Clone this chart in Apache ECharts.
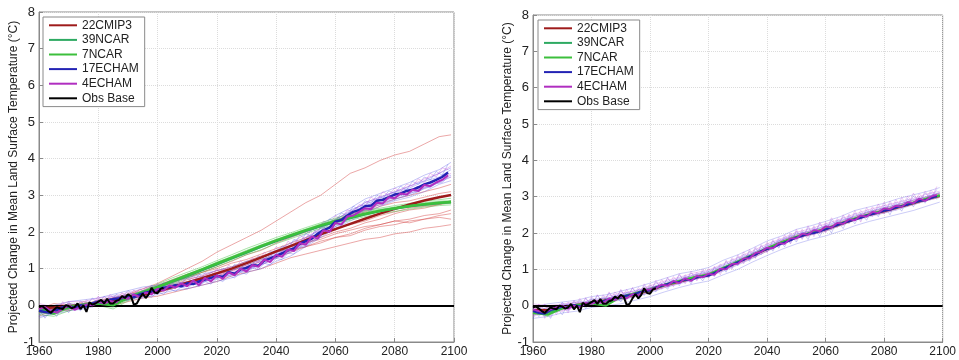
<!DOCTYPE html>
<html><head><meta charset="utf-8">
<script src="https://cdn.jsdelivr.net/npm/echarts@6/dist/echarts.min.js"></script>
<style>html,body{margin:0;padding:0;background:#fff}#c{width:959px;height:360px}</style>
</head><body><div id="c"></div>
<script>
// ---------- x values ----------
const yrs5 = [1960,1965,1970,1975,1980,1985,1990,1995,2000,2005,2010,2015,2020,2025,2030,2035,2040,2045,2050,2055,2060,2065,2070,2075,2080,2085,2090,2095,2099];
const yrs2 = [1960,1962,1964,1966,1968,1970,1972,1974,1976,1978,1980,1982,1984,1986,1988,1990,1992,1994,1996,1998,2000,2002,2004,2006,2008,2010,2012,2014,2016,2018,2020,2022,2024,2026,2028,2030,2032,2034,2036,2038,2040,2042,2044,2046,2048,2050,2052,2054,2056,2058,2060,2062,2064,2066,2068,2070,2072,2074,2076,2078,2080,2082,2084,2086,2088,2090,2092,2094,2096,2098];
const yrsObs = [1960,1961,1962,1963,1964,1965,1966,1967,1968,1969,1970,1971,1972,1973,1974,1975,1976,1977,1978,1979,1980,1981,1982,1983,1984,1985,1986,1987,1988,1989,1990,1991,1992,1993,1994,1995,1996,1997,1998,1999,2000,2001,2002];
const xTicks = [1960,1980,2000,2020,2040,2060,2080,2100];
const yTicks = [-1,0,1,2,3,4,5,6,7,8];
const legendNames = ['22CMIP3','39NCAR','7NCAR','17ECHAM','4ECHAM','Obs Base'];

// ---------- observations ----------
const obsBase = [-0.05,-0.02,-0.08,-0.15,-0.2,-0.12,-0.05,-0.08,-0.1,0.0,-0.02,-0.08,-0.05,0.05,-0.1,0.0,-0.18,0.08,0.02,0.05,0.1,0.15,0.05,0.18,0.05,0.05,0.12,0.15,0.25,0.2,0.3,0.25,0.02,0.05,0.2,0.32,0.2,0.3,0.48,0.35,0.33,0.45,0.48];

// ---------- left panel means ----------
const L_cmip3 = [-0.08,-0.06,-0.03,0.0,0.05,0.12,0.2,0.28,0.38,0.5,0.62,0.74,0.87,1.0,1.15,1.31,1.47,1.62,1.78,1.94,2.08,2.22,2.36,2.5,2.63,2.75,2.86,2.95,3.01];
const L_ncar39 = [-0.12,-0.18,-0.05,0.0,0.08,0.02,0.22,0.36,0.5,0.65,0.8,0.96,1.12,1.28,1.44,1.6,1.75,1.89,2.03,2.16,2.28,2.38,2.48,2.57,2.64,2.7,2.75,2.79,2.82];
const L_ncar7 = [-0.15,-0.22,-0.05,0.0,0.05,0.0,0.2,0.35,0.5,0.66,0.82,0.98,1.14,1.3,1.46,1.62,1.77,1.91,2.05,2.18,2.3,2.4,2.5,2.58,2.65,2.71,2.76,2.8,2.82];
const L_echam17 = [-0.15,-0.18,-0.2,-0.12,-0.05, -0.02,-0.08,0.0,-0.03,0.05, 0.1,0.08,0.15,0.18,0.2, 0.25,0.22,0.3,0.35,0.38, 0.42,0.48,0.5,0.55,0.52, 0.6,0.58,0.65,0.7,0.75, 0.8,0.78,0.9,0.86,0.98, 1.02,1.1,1.08,1.22,1.28, 1.35,1.42,1.5,1.55,1.68, 1.75,1.82,1.95,2.05,2.12, 2.28,2.33,2.45,2.55,2.6, 2.7,2.72,2.85,2.88,2.95, 3.02,3.05,3.12,3.15,3.22, 3.3,3.35,3.42,3.5,3.62];
const L_echam4 = [-0.1,-0.05,-0.15,-0.2,-0.1, 0.0,-0.12,-0.05,0.02,0.0, 0.1,0.05,0.12,0.08,0.22, 0.18,0.3,0.22,0.35,0.3, 0.45,0.4,0.55,0.48,0.6, 0.52,0.68,0.55,0.75,0.65, 0.82,0.72,0.9,0.82,1.0, 0.92,1.1,1.05,1.25,1.18, 1.38,1.32,1.52,1.48,1.7, 1.65,1.88,1.82,2.05,2.0, 2.25,2.2,2.42,2.45,2.55, 2.65,2.62,2.8,2.78,2.95, 2.92,3.05,3.02,3.15,3.12, 3.28,3.25,3.35,3.42,3.55];

// ---------- left panel ensemble members (5-yr) ----------
const L_red1 = [-0.05,0.0,-0.1,0.05,0.1,0.2,0.3,0.45,0.6,0.8,1.0,1.2,1.45,1.65,1.85,2.05,2.3,2.55,2.8,3.0,3.3,3.6,3.75,3.95,4.1,4.2,4.4,4.6,4.65];
const L_red2 = [-0.2,-0.1,0.0,-0.05,0.1,0.15,0.25,0.35,0.5,0.6,0.78,0.9,1.05,1.2,1.38,1.5,1.7,1.85,2.0,2.15,2.3,2.5,2.6,2.75,2.9,3.0,3.1,3.2,3.3];
const L_red3 = [-0.1,-0.2,0.05,-0.05,0.0,0.1,0.15,0.3,0.35,0.45,0.6,0.7,0.8,0.95,1.1,1.25,1.35,1.5,1.6,1.75,1.85,1.95,2.1,2.2,2.3,2.35,2.45,2.5,2.6];
const L_red4 = [0.0,-0.15,-0.05,0.1,0.0,0.15,0.2,0.25,0.45,0.5,0.65,0.75,0.9,1.0,1.15,1.3,1.45,1.55,1.7,1.8,1.95,2.05,2.15,2.2,2.3,2.25,2.35,2.4,2.35];
const L_red5 = [-0.3,-0.1,-0.15,0.0,0.05,0.0,0.1,0.2,0.25,0.35,0.45,0.55,0.65,0.8,0.9,1.0,1.15,1.3,1.4,1.5,1.6,1.7,1.8,1.85,1.95,2.0,2.1,2.15,2.2];
const L_red6 = [-0.1,0.05,0.0,0.0,0.15,0.2,0.3,0.4,0.55,0.7,0.85,0.95,1.1,1.3,1.45,1.6,1.75,1.9,2.05,2.2,2.3,2.45,2.55,2.7,2.8,2.85,2.95,3.05,3.1];
const L_red7 = [-0.15,-0.05,-0.1,0.05,0.05,0.1,0.2,0.3,0.4,0.5,0.6,0.75,0.85,0.95,1.05,1.2,1.3,1.45,1.6,1.7,1.85,1.9,2.05,2.15,2.2,2.3,2.35,2.45,2.5];
const L_red8 = [-0.05,-0.1,0.0,0.0,0.1,0.2,0.25,0.35,0.5,0.65,0.75,0.9,1.0,1.15,1.25,1.4,1.55,1.7,1.85,1.95,2.1,2.2,2.3,2.45,2.55,2.65,2.7,2.75,2.85];
const L_red9 = [-0.2,-0.1,0.0,0.05,0.0,0.15,0.2,0.3,0.4,0.55,0.7,0.8,0.95,1.05,1.2,1.35,1.45,1.6,1.7,1.85,2.0,2.1,2.25,2.35,2.5,2.6,2.65,2.75,2.8];
const L_blue1 = [-0.05,0.0,0.1,0.15,0.2,0.3,0.4,0.5,0.55,0.68,0.75,0.85,0.95,1.05,1.2,1.3,1.5,1.7,1.95,2.2,2.45,2.65,2.9,3.05,3.2,3.35,3.55,3.7,3.9];
const L_blue2 = [-0.3,-0.25,-0.15,-0.1,0.0,0.05,0.15,0.2,0.3,0.4,0.45,0.55,0.65,0.75,0.9,1.0,1.2,1.35,1.6,1.85,2.1,2.3,2.5,2.7,2.85,2.95,3.1,3.3,3.4];
const L_blue3 = [-0.15,-0.05,-0.1,0.05,0.05,0.2,0.3,0.35,0.5,0.55,0.65,0.72,0.88,0.95,1.1,1.25,1.4,1.6,1.8,2.1,2.35,2.55,2.8,2.95,3.1,3.25,3.4,3.6,3.75];
const L_blue4 = [-0.25,-0.1,0.0,-0.05,0.15,0.1,0.2,0.3,0.38,0.45,0.58,0.62,0.75,0.82,0.98,1.12,1.28,1.45,1.7,1.95,2.2,2.42,2.62,2.8,2.95,3.05,3.22,3.4,3.55];
const L_blue5 = [0.0,-0.15,0.05,0.0,0.1,0.25,0.2,0.4,0.45,0.6,0.62,0.78,0.85,0.98,1.05,1.22,1.45,1.55,1.85,2.05,2.32,2.6,2.75,2.92,3.08,3.2,3.38,3.5,3.7];
const L_blue6 = [-0.35,-0.2,-0.1,0.0,0.05,0.15,0.25,0.25,0.35,0.48,0.52,0.65,0.72,0.85,0.95,1.1,1.3,1.48,1.65,1.9,2.15,2.38,2.6,2.78,2.9,3.0,3.18,3.35,3.5];
const L_mag1 = [-0.2,-0.1,0.0,0.05,0.05,0.2,0.25,0.3,0.45,0.5,0.6,0.7,0.82,0.9,1.05,1.2,1.35,1.55,1.75,2.0,2.25,2.45,2.7,2.85,3.0,3.15,3.3,3.45,3.6];
const L_mag2 = [-0.1,-0.25,-0.05,0.0,0.15,0.1,0.3,0.35,0.4,0.5,0.55,0.65,0.75,0.88,1.0,1.1,1.3,1.5,1.7,1.9,2.2,2.4,2.6,2.8,2.95,3.1,3.2,3.4,3.5];
const L_mag3 = [0.05,-0.05,0.1,0.1,0.2,0.25,0.35,0.45,0.55,0.65,0.72,0.8,0.95,1.0,1.15,1.3,1.45,1.65,1.85,2.1,2.35,2.55,2.8,2.95,3.1,3.25,3.45,3.6,3.8];
const L_green1 = [-0.05,-0.1,0.0,0.05,0.1,0.1,0.25,0.4,0.58,0.75,0.9,1.05,1.22,1.38,1.55,1.7,1.85,1.98,2.12,2.25,2.38,2.48,2.58,2.65,2.72,2.78,2.84,2.88,2.92];
const L_green2 = [-0.25,-0.3,-0.15,-0.05,0.0,-0.1,0.12,0.28,0.42,0.58,0.74,0.9,1.05,1.22,1.38,1.52,1.68,1.82,1.96,2.1,2.2,2.32,2.42,2.5,2.56,2.62,2.68,2.72,2.74];
const L_green3 = [-0.1,-0.15,0.0,0.0,0.1,0.05,0.22,0.38,0.52,0.7,0.85,1.0,1.18,1.33,1.5,1.65,1.8,1.94,2.08,2.22,2.34,2.44,2.54,2.62,2.68,2.75,2.8,2.84,2.86];
const L_green4 = [-0.2,-0.25,-0.1,0.05,0.0,-0.05,0.15,0.32,0.48,0.62,0.78,0.95,1.1,1.26,1.42,1.58,1.74,1.88,2.02,2.14,2.26,2.36,2.46,2.55,2.62,2.68,2.72,2.76,2.78];
// left panel ensemble members (2-yr, jagged)
const L_blueJ1 = [-0.3,-0.05,-0.25,0.0,-0.15, 0.1,-0.1,0.12,0.0,0.2, 0.05,0.25,0.1,0.3,0.22, 0.4,0.28,0.45,0.35,0.55, 0.45,0.62,0.5,0.7,0.6, 0.75,0.62,0.85,0.72,0.9, 0.82,1.0,0.9,1.12,1.0, 1.2,1.1,1.35,1.25,1.48, 1.4,1.62,1.55,1.8,1.72, 1.95,1.88,2.15,2.1,2.35, 2.3,2.52,2.45,2.7,2.62, 2.85,2.78,3.0,2.92,3.12, 3.05,3.25,3.15,3.38,3.3, 3.5,3.42,3.65,3.55,3.85];
const L_blueJ2 = [-0.1,-0.35,-0.15,-0.3,0.0, -0.2,0.0,-0.15,0.1,-0.05, 0.12,0.0,0.2,0.05,0.15, 0.12,0.3,0.18,0.28,0.22, 0.38,0.3,0.45,0.38,0.5, 0.45,0.6,0.52,0.65,0.58, 0.72,0.65,0.8,0.75,0.9, 0.85,1.02,0.98,1.15,1.1, 1.28,1.25,1.42,1.4,1.58, 1.6,1.75,1.8,1.95,2.0, 2.15,2.2,2.32,2.4,2.45, 2.58,2.6,2.72,2.75,2.82, 2.88,2.95,3.0,3.08,3.1, 3.2,3.22,3.32,3.35,3.5];
const L_magJ1 = [0.0,-0.3,-0.05,-0.2,0.1, -0.15,0.05,-0.1,0.15,0.0, 0.25,0.0,0.3,0.1,0.35, 0.15,0.42,0.25,0.5,0.3, 0.6,0.42,0.68,0.5,0.75, 0.55,0.82,0.62,0.9,0.75, 1.0,0.82,1.1,0.95,1.22, 1.05,1.3,1.18,1.45,1.3, 1.6,1.45,1.75,1.62,1.92, 1.8,2.1,1.98,2.3,2.2, 2.45,2.35,2.6,2.55,2.75, 2.7,2.95,2.85,3.1,3.0, 3.2,3.1,3.3,3.25,3.45, 3.35,3.6,3.5,3.75,3.7];

// ---------- right panel means ----------
const R_cmip3 = [-0.12,-0.12,-0.05,0.02,0.08,0.15,0.22,0.3,0.42,0.56,0.66,0.76,0.84,1.02,1.2,1.38,1.56,1.74,1.88,1.99,2.1,2.24,2.38,2.5,2.6,2.71,2.82,2.94,3.02];
const R_ncar39 = [-0.18,-0.2,-0.05,0.0,0.1,0.12,0.22,0.32,0.44,0.57,0.67,0.77,0.85,1.03,1.21,1.39,1.57,1.74,1.89,2.0,2.11,2.25,2.39,2.51,2.62,2.72,2.83,2.95,3.03];
const R_ncar7 = [-0.2,-0.25,-0.08,0.02,0.06,0.0,0.24,0.35,0.45,0.58,0.68,0.78,0.86,1.04,1.22,1.4,1.58,1.75,1.9,2.01,2.12,2.26,2.4,2.52,2.62,2.73,2.84,2.96,3.04];
const R_echam17 = [-0.15,-0.2,-0.22,-0.12,-0.08, -0.03,-0.05,0.02,-0.02,0.05, 0.08,0.1,0.12,0.18,0.2, 0.22,0.28,0.3,0.36,0.4, 0.42,0.5,0.55,0.6,0.65, 0.66,0.72,0.7,0.78,0.8, 0.83,0.9,0.98,1.05,1.12, 1.2,1.26,1.35,1.4,1.5, 1.56,1.6,1.68,1.74,1.8, 1.88,1.92,1.98,2.0,2.05, 2.1,2.16,2.22,2.28,2.32, 2.38,2.42,2.48,2.52,2.56, 2.61,2.64,2.7,2.74,2.78, 2.83,2.88,2.9,2.96,3.02];
const R_echam4 = [-0.1,-0.15,-0.18,-0.1,-0.05, 0.0,-0.08,0.0,-0.05,0.08, 0.05,0.12,0.08,0.2,0.15, 0.25,0.2,0.32,0.28,0.42, 0.45,0.48,0.58,0.55,0.68, 0.62,0.75,0.68,0.82,0.78, 0.88,0.85,1.02,1.0,1.15, 1.15,1.3,1.3,1.45,1.48, 1.6,1.58,1.72,1.7,1.85, 1.85,1.98,1.95,2.08,2.05, 2.18,2.15,2.28,2.25,2.38, 2.35,2.48,2.45,2.58,2.55, 2.68,2.65,2.75,2.72,2.85, 2.82,2.95,2.88,3.0,3.05];

// ---------- right panel ensemble members (5-yr) ----------
const R_blue1 = [-0.05,0.05,0.1,0.15,0.25,0.3,0.4,0.5,0.62,0.75,0.88,0.95,1.05,1.25,1.4,1.58,1.78,1.92,2.1,2.2,2.32,2.45,2.62,2.72,2.82,2.95,3.05,3.15,3.25];
const R_blue2 = [-0.35,-0.3,-0.2,-0.15,-0.05,0.0,0.05,0.15,0.25,0.38,0.5,0.6,0.68,0.85,1.0,1.2,1.38,1.55,1.7,1.82,1.92,2.05,2.2,2.32,2.42,2.52,2.62,2.75,2.85];
const R_blue3 = [-0.2,-0.05,0.0,0.1,0.1,0.2,0.3,0.35,0.5,0.6,0.75,0.82,0.92,1.08,1.28,1.45,1.62,1.8,1.95,2.08,2.18,2.32,2.48,2.6,2.7,2.8,2.9,3.02,3.1];
const R_blue4 = [-0.25,-0.2,-0.1,0.05,0.0,0.1,0.15,0.25,0.35,0.5,0.6,0.72,0.8,0.95,1.12,1.3,1.5,1.68,1.85,1.95,2.05,2.2,2.35,2.45,2.55,2.65,2.78,2.9,2.98];
const R_blue5 = [0.0,-0.1,0.05,0.0,0.18,0.2,0.3,0.42,0.48,0.65,0.72,0.85,0.95,1.12,1.25,1.45,1.65,1.82,1.98,2.05,2.2,2.35,2.45,2.58,2.68,2.78,2.92,3.0,3.12];
const R_mag1 = [-0.1,-0.25,0.0,0.05,0.15,0.2,0.25,0.38,0.5,0.6,0.7,0.85,0.9,1.05,1.25,1.42,1.6,1.8,1.92,2.05,2.15,2.3,2.42,2.55,2.65,2.75,2.88,2.98,3.08];
const R_mag2 = [-0.3,-0.15,-0.15,-0.05,0.05,0.08,0.18,0.25,0.4,0.5,0.62,0.72,0.82,0.98,1.15,1.32,1.52,1.7,1.85,1.98,2.08,2.22,2.38,2.48,2.58,2.7,2.8,2.92,3.0];
const R_mag3 = [0.05,0.0,0.05,0.1,0.05,0.25,0.35,0.4,0.55,0.68,0.78,0.9,0.98,1.15,1.32,1.5,1.7,1.85,2.02,2.12,2.25,2.38,2.52,2.65,2.75,2.85,2.95,3.08,3.15];
const R_mag4 = [-0.2,-0.1,-0.1,0.0,0.12,0.1,0.2,0.32,0.45,0.55,0.65,0.75,0.88,1.0,1.18,1.35,1.55,1.72,1.88,2.0,2.1,2.28,2.4,2.5,2.6,2.72,2.85,2.95,3.05];
const R_red1 = [-0.15,-0.05,0.0,0.05,0.1,0.18,0.28,0.35,0.48,0.6,0.7,0.8,0.9,1.05,1.22,1.42,1.6,1.78,1.95,2.05,2.15,2.3,2.45,2.58,2.68,2.78,2.9,3.0,3.1];
const R_red2 = [-0.25,-0.2,-0.1,0.0,0.0,0.1,0.18,0.25,0.38,0.52,0.62,0.75,0.8,0.98,1.15,1.32,1.5,1.7,1.85,1.95,2.05,2.2,2.35,2.48,2.55,2.68,2.78,2.9,2.98];
const R_red3 = [-0.05,-0.15,-0.05,0.0,0.12,0.15,0.25,0.32,0.45,0.58,0.7,0.78,0.88,1.02,1.2,1.4,1.58,1.75,1.9,2.02,2.12,2.28,2.42,2.55,2.65,2.75,2.85,2.98,3.08];
const R_green1 = [-0.2,-0.25,-0.05,0.05,0.1,0.15,0.25,0.35,0.45,0.58,0.68,0.8,0.88,1.02,1.2,1.38,1.56,1.75,1.9,2.0,2.1,2.25,2.38,2.5,2.6,2.72,2.82,2.95,3.02];
const R_green2 = [-0.1,-0.3,0.0,0.0,0.05,0.2,0.18,0.3,0.4,0.55,0.66,0.76,0.85,1.0,1.18,1.36,1.55,1.72,1.88,1.98,2.1,2.24,2.4,2.52,2.62,2.7,2.82,2.94,3.04];
// right panel ensemble members (2-yr, jagged)
const R_blueJ1 = [-0.35,-0.05,-0.3,0.0,-0.2, 0.1,-0.15,0.12,-0.05,0.2, 0.0,0.28,0.1,0.35,0.15, 0.42,0.22,0.48,0.3,0.55, 0.4,0.65,0.5,0.75,0.58, 0.85,0.65,0.9,0.72,0.95, 0.78,1.05,0.95,1.22,1.05, 1.35,1.2,1.5,1.32,1.65, 1.48,1.78,1.6,1.88,1.72, 2.05,1.85,2.15,1.95,2.25, 2.05,2.35,2.18,2.45,2.28, 2.55,2.35,2.62,2.48,2.72, 2.55,2.82,2.65,2.9,2.75, 3.02,2.85,3.1,2.95,3.2];
const R_blueJ2 = [-0.05,-0.3,-0.1,-0.35,-0.05, -0.25,0.05,-0.1,0.15,-0.08, 0.2,0.0,0.25,0.02,0.3, 0.1,0.38,0.2,0.45,0.28, 0.55,0.38,0.62,0.45,0.72, 0.55,0.82,0.6,0.88,0.68, 0.95,0.8,1.1,0.92,1.28, 1.1,1.42,1.22,1.58,1.4, 1.7,1.5,1.82,1.62,1.95, 1.75,2.05,1.82,2.15,1.9, 2.25,2.0,2.35,2.12,2.48, 2.25,2.55,2.35,2.65,2.45, 2.78,2.5,2.85,2.6,2.95, 2.72,3.0,2.82,3.12,2.92];
const R_magJ1 = [-0.2,0.05,-0.35,-0.05,-0.25, 0.05,-0.2,0.15,-0.1,0.22, -0.02,0.3,0.05,0.38,0.12, 0.45,0.15,0.5,0.25,0.6, 0.35,0.7,0.45,0.78,0.52, 0.88,0.6,0.95,0.68,1.0, 0.75,1.08,0.85,1.25,1.0, 1.4,1.15,1.55,1.3,1.68, 1.45,1.82,1.58,1.95,1.7, 2.1,1.82,2.2,1.9,2.3, 2.0,2.42,2.15,2.5,2.25, 2.62,2.3,2.7,2.45,2.8, 2.52,2.88,2.62,2.98,2.72, 3.1,2.82,3.15,2.92,3.28];
const R_magJ2 = [0.0,-0.2,0.05,-0.3,0.0, -0.15,0.1,-0.05,0.2,-0.02, 0.25,0.05,0.3,0.08,0.38, 0.18,0.45,0.22,0.5,0.35, 0.6,0.42,0.72,0.5,0.8, 0.62,0.85,0.7,0.92,0.75, 1.02,0.88,1.15,0.98,1.32, 1.18,1.48,1.28,1.62,1.45, 1.75,1.55,1.88,1.68,2.0, 1.8,2.1,1.88,2.2,1.98, 2.3,2.08,2.4,2.2,2.52, 2.32,2.62,2.42,2.72,2.52, 2.85,2.58,2.92,2.68,3.02, 2.8,3.08,2.9,3.18,3.0];

// ---------- build options ----------
const C = {cmip3:'#9e1b1b', ncar39:'#2eaa62', ncar7:'#3cbf3c', echam17:'#2323b4', echam4:'#b02ec0', obs:'#000000'};
const TH = {red:'#d23c3c', blue:'#5555e6', mag:'#c050d8', green:'#3cc03c'};

function pairs(xs, ys){ const out=[]; const n=Math.min(xs.length, ys.length); for(let i=0;i<n;i++) out.push([xs[i], ys[i]]); return out; }
function thin(xs, ys, color, op, g){
  return {name:'member', type:'line', xAxisIndex:g, yAxisIndex:g, data:pairs(xs,ys), symbol:'none', showSymbol:false, silent:true,
          lineStyle:{width:1, color:color, opacity:op}, itemStyle:{color:color}, z:2};
}
function main(name, xs, ys, color, w, g, z){
  return {name:name, type:'line', xAxisIndex:g, yAxisIndex:g, data:pairs(xs,ys), symbol:'none', showSymbol:false, silent:true,
          lineStyle:{width:w, color:color}, itemStyle:{color:color}, z:z};
}

const series = [];
// left thin
[L_red1,L_red2,L_red3,L_red4,L_red5,L_red6,L_red7,L_red8,L_red9].forEach(a=>series.push(thin(yrs5,a,TH.red,0.45,0)));
[L_blue1,L_blue2,L_blue3,L_blue4,L_blue5,L_blue6].forEach(a=>series.push(thin(yrs5,a,TH.blue,0.35,0)));
[L_blueJ1,L_blueJ2].forEach(a=>series.push(thin(yrs2,a,TH.blue,0.35,0)));
[L_mag1,L_mag2,L_mag3].forEach(a=>series.push(thin(yrs5,a,TH.mag,0.35,0)));
series.push(thin(yrs2,L_magJ1,TH.mag,0.35,0));
[L_green1,L_green2,L_green3,L_green4].forEach(a=>series.push(thin(yrs5,a,TH.green,0.45,0)));
// right thin
[R_red1,R_red2,R_red3].forEach(a=>series.push(thin(yrs5,a,TH.red,0.3,1)));
[R_blue1,R_blue2,R_blue3,R_blue4,R_blue5].forEach(a=>series.push(thin(yrs5,a,TH.blue,0.3,1)));
[R_blueJ1,R_blueJ2].forEach(a=>series.push(thin(yrs2,a,TH.blue,0.3,1)));
[R_mag1,R_mag2,R_mag3,R_mag4].forEach(a=>series.push(thin(yrs5,a,TH.mag,0.3,1)));
[R_magJ1,R_magJ2].forEach(a=>series.push(thin(yrs2,a,TH.mag,0.3,1)));
[R_green1,R_green2].forEach(a=>series.push(thin(yrs5,a,TH.green,0.35,1)));

const zeroLine = {silent:true, symbol:'none', label:{show:false}, lineStyle:{color:'#000', width:2, type:'solid'}, data:[{yAxis:0}]};
// left means
series.push(main('22CMIP3', yrs5, L_cmip3, C.cmip3, 2.5, 0, 5));
series.push(main('39NCAR', yrs5, L_ncar39, C.ncar39, 2.5, 0, 6));
series.push(main('7NCAR', yrs5, L_ncar7, C.ncar7, 2.5, 0, 7));
series.push(main('17ECHAM', yrs2, L_echam17, C.echam17, 2.5, 0, 8));
series.push(main('4ECHAM', yrs2, L_echam4, C.echam4, 2, 0, 9));
const obsL = main('Obs Base', yrsObs, obsBase, C.obs, 2, 0, 10); obsL.markLine = zeroLine; series.push(obsL);
// right means
series.push(main('22CMIP3', yrs5, R_cmip3, C.cmip3, 2, 1, 5));
series.push(main('39NCAR', yrs5, R_ncar39, C.ncar39, 2, 1, 6));
series.push(main('7NCAR', yrs5, R_ncar7, C.ncar7, 2, 1, 7));
series.push(main('17ECHAM', yrs2, R_echam17, C.echam17, 2, 1, 8));
series.push(main('4ECHAM', yrs2, R_echam4, C.echam4, 1.8, 1, 9));
const obsR = main('Obs Base', yrsObs, obsBase, C.obs, 2, 1, 10); obsR.markLine = zeroLine; series.push(obsR);

const FONT = "'Liberation Sans', Arial, sans-serif";
function xAx(g){
  return {type:'value', gridIndex:g, min:xTicks[0], max:xTicks[xTicks.length-1], interval:20,
    axisLine:{show:true, onZero:false, lineStyle:{color:'#8a8a8a'}}, axisTick:{show:true, inside:true, length:4, lineStyle:{color:'#8a8a8a'}},
    axisLabel:{color:'#222', fontSize:12, fontFamily:FONT, margin:4, formatter:v=>String(v)},
    splitLine:{show:true, lineStyle:{color:'#dcdcdc', type:'dotted', width:1}}};
}
function yAx(g, gap){
  return {type:'value', gridIndex:g, min:yTicks[0], max:yTicks[yTicks.length-1], interval:1,
    name:'Projected Change in Mean Land Surface Temperature (°C)', nameLocation:'middle', nameGap:gap, nameRotate:90,
    nameTextStyle:{color:'#222', fontSize:12, fontFamily:FONT},
    axisLine:{show:true, lineStyle:{color:'#8a8a8a'}}, axisTick:{show:true, inside:true, length:4, lineStyle:{color:'#8a8a8a'}},
    axisLabel:{color:'#222', fontSize:13, fontFamily:FONT, margin:4},
    splitLine:{show:true, lineStyle:{color:'#dcdcdc', type:'dotted', width:1}}};
}
function leg(left, top){
  return {data:legendNames, left:left, top:top, orient:'vertical', padding:[1,6,1,6], itemGap:0, itemWidth:28, itemHeight:2, icon:'rect',
    borderColor:'#8a8a8a', borderWidth:1, backgroundColor:'#fff', borderRadius:0, selectedMode:false,
    textStyle:{fontSize:12, lineHeight:14.6, color:'#222', fontFamily:FONT}};
}

const option = {
  animation:false,
  backgroundColor:'#fff',
  grid:[
    {left:39, top:12, width:415, height:330, show:true, borderColor:'#8a8a8a', borderWidth:1, backgroundColor:'transparent'},
    {left:533, top:15, width:414, height:327, show:true, borderColor:'#8a8a8a', borderWidth:1, backgroundColor:'transparent'}
  ],
  xAxis:[xAx(0), xAx(1)],
  yAxis:[yAx(0,18), yAx(1,15)],
  legend:[leg(43,17), leg(538,20)],
  series:series
};
const chart = echarts.init(document.getElementById('c'), null, {renderer:'canvas'});
chart.setOption(option);
</script></body></html>
